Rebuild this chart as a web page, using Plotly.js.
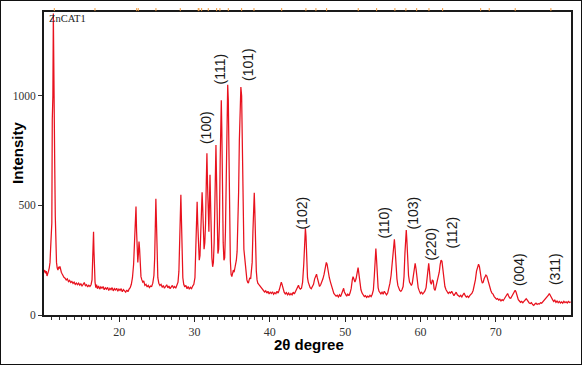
<!DOCTYPE html>
<html>
<head>
<meta charset="utf-8">
<script src="https://cdn.plot.ly/plotly-3.0.1.min.js"></script>
<style>
  html, body { margin: 0; padding: 0; background: #fff; }
  #wrap { position: relative; width: 582px; height: 365px; }
  #chart { width: 582px; height: 365px; }
  #frame { position: absolute; left: 0; top: 0; width: 580px; height: 363px; border: 1px solid #111; pointer-events: none; }
</style>
</head>
<body>
<div id="wrap"><div id="chart"></div><div id="frame"></div></div>
<script>
// ---- Data (2θ in degrees, intensity in counts) ----
const scanLow = [
  [10.0,195],[10.1,205],[10.2,190],[10.3,200],[10.4,178],[10.5,186],[10.6,200],[10.7,215],
  [10.8,240],[10.88,305],[10.96,410],[11.04,420],[11.1,890],[11.18,1000],[11.24,1375],[11.3,1000],
  [11.36,700],[11.42,700],[11.5,450],[11.58,300],[11.66,240],
  [11.75,215],[11.85,205],[11.95,220],[12.05,212],[12.12,222],[12.2,200],[12.3,195],[12.4,188],[12.5,180],
  [12.65,172],[12.8,168],[12.95,160],[13.1,165],[13.25,152],[13.4,158],[13.55,148],[13.7,153],
  [13.85,144],[14.0,150],[14.15,140],[14.3,146],[14.45,138],[14.6,145],[14.75,136],[14.9,142],
  [15.05,133],[15.2,140],[15.35,148],[15.5,134],[15.65,138],[15.8,128],[15.95,136],[16.1,130],
  [16.25,138],[16.38,160],[16.45,250],[16.52,370],[16.58,380],[16.64,290],[16.7,200],[16.78,150],[16.88,125],
  [16.98,138],[17.1,120],[17.25,132],[17.4,118],[17.55,128],[17.7,122],[17.85,130],[18.0,115],
  [18.15,124],[18.3,118],[18.45,126],[18.6,112],[18.75,122],[18.9,116],[19.05,125],[19.2,110],
  [19.35,120],[19.5,114],[19.65,122],[19.8,108],[19.95,118]
];
const scanMid = [
  [20.1,112],[20.25,120],[20.4,106],[20.55,116],[20.7,110],[20.85,104],[21.0,114],[21.15,106],
  [21.3,118],[21.45,125],[21.6,140],[21.75,170],[21.9,230],
  [22.0,300],[22.08,420],[22.16,480],[22.22,495],[22.3,380],[22.38,260],[22.46,240],[22.54,280],
  [22.62,335],[22.7,300],[22.78,210],[22.88,175],[23.0,160],[23.12,150],[23.25,155],[23.4,135],
  [23.55,140],[23.7,128],[23.85,135],[24.0,125],[24.15,132],[24.3,130],[24.45,145],[24.6,180],
  [24.7,260],[24.78,420],[24.86,530],[24.94,420],[25.02,250],[25.12,170],[25.25,145],[25.4,135],
  [25.55,140],[25.7,126],[25.85,134],[26.0,122],[26.15,130],[26.3,138],[26.45,124],[26.6,132],
  [26.75,120],[26.9,128],[27.05,135],[27.2,124],[27.35,130],[27.5,122],[27.65,134],[27.8,150],[27.92,200],
  [28.02,300],[28.1,440],[28.18,548],[28.26,430],[28.34,250],[28.44,170],[28.56,140],[28.7,128],
  [28.85,135],[29.0,120],[29.15,130],[29.3,118],[29.45,126],[29.6,120],[29.75,132],[29.9,140],
  [30.05,170],[30.15,260],[30.25,400],[30.34,516],[30.42,420],[30.52,290],[30.62,250],[30.72,270],
  [30.82,350],[30.92,480],[31.0,560],[31.08,490],[31.16,360],[31.26,300],[31.36,330],[31.46,420],
  [31.56,610],[31.64,738],[31.72,600],[31.8,420],[31.9,380],[31.98,520],[32.05,640],[32.12,520],
  [32.2,330],[32.3,260],[32.4,220],[32.5,240],[32.6,330],[32.7,520],[32.78,700],[32.84,775],
  [32.92,620],[33.0,400],[33.1,280],[33.2,300],[33.3,420],[33.4,700],[33.48,900],[33.55,980],
  [33.62,850],[33.7,560],[33.8,330],[33.9,250],[34.0,260],[34.1,380],[34.2,620],[34.3,880],
  [34.4,1050],[34.48,980],[34.56,700],[34.65,400],[34.75,250],[34.85,185],[34.95,175],[35.05,190],
  [35.15,205],[35.25,195],[35.35,215],[35.45,225],[35.55,250],[35.65,290],[35.75,380],[35.85,560],
  [35.95,800],[36.05,960],[36.15,1040],[36.25,1000],[36.35,780],[36.45,480],[36.55,300],[36.65,265],
  [36.75,220],[36.85,180],[36.95,160],[37.05,150],[37.15,145],[37.25,160],[37.35,170],[37.45,165],
  [37.55,190],[37.65,240],[37.75,380],[37.85,520],[37.93,557],[38.0,480],[38.1,300],[38.2,200],
  [38.3,160],[38.4,145],[38.55,138],[38.7,132],[38.85,125],[39.0,118],[39.15,112],[39.3,105],
  [39.45,110],[39.6,100],[39.75,108],[39.9,96]
];
const scanHigh = [
  [40.05,104],[40.2,98],[40.35,106],[40.5,95],[40.65,102],[40.8,97],[40.95,108],[41.1,100],
  [41.25,115],[41.4,135],[41.52,150],[41.62,140],[41.75,118],[41.9,104],[42.05,96],[42.2,102],
  [42.35,92],[42.5,100],[42.65,90],[42.8,98],[42.95,92],[43.1,104],[43.25,96],[43.4,108],
  [43.55,120],[43.7,132],[43.8,136],[43.9,125],[44.05,118],[44.2,122],[44.35,150],[44.5,230],
  [44.62,340],[44.72,395],[44.8,360],[44.9,240],[45.0,170],[45.1,150],[45.2,135],[45.35,125],
  [45.5,120],[45.65,130],[45.8,140],[45.95,165],[46.1,178],[46.2,186],[46.3,170],[46.45,145],
  [46.6,130],[46.75,138],[46.9,150],[47.05,165],[47.2,185],[47.35,215],[47.5,240],[47.6,232],
  [47.7,205],[47.8,190],[47.9,170],[48.05,150],[48.2,128],[48.35,115],[48.5,98],[48.65,92],
  [48.8,86],[48.95,90],[49.1,82],[49.25,92],[49.4,84],[49.55,98],[49.7,118],[49.8,122],
  [49.9,105],[50.05,92],[50.2,86],[50.35,95],[50.5,88],[50.65,100],[50.8,120],[50.95,160],
  [51.05,175],[51.15,165],[51.3,150],[51.45,165],[51.6,200],[51.72,216],[51.82,190],[51.95,140],
  [52.1,115],[52.25,100],[52.4,90],[52.55,84],[52.7,88],[52.85,80],[53.0,86],[53.15,82],
  [53.3,90],[53.45,84],[53.6,95],[53.75,115],[53.88,180],[54.0,270],[54.08,303],[54.16,260],
  [54.26,170],[54.38,125],[54.5,108],[54.62,100],[54.75,96],[54.9,104],[55.05,95],[55.2,108],
  [55.35,98],[55.5,92],[55.65,100],[55.8,118],[55.95,145],[56.1,180],[56.22,230],[56.34,300],
  [56.44,340],[56.54,345],[56.64,300],[56.76,220],[56.88,165],[57.0,135],[57.12,120],[57.25,112],
  [57.4,108],[57.55,115],[57.7,130],[57.82,175],[57.94,280],[58.04,370],[58.12,388],[58.2,340],
  [58.3,240],[58.42,180],[58.55,150],[58.68,140],[58.8,135],[58.92,145],[59.05,175],[59.18,220],
  [59.3,236],[59.42,210],[59.55,160],[59.7,125],[59.85,110],[60.0,98],[60.15,104],[60.3,96],
  [60.45,102],[60.6,110],[60.75,125],[60.88,170],[61.0,225],[61.1,236],[61.2,200],[61.32,150],
  [61.45,140],[61.58,160],[61.7,155],[61.82,120],[61.95,112],[62.08,130],[62.2,140],[62.35,165],
  [62.5,195],[62.62,230],[62.74,250],[62.86,245],[62.98,200],[63.1,160],[63.25,130],[63.4,115],
  [63.55,105],[63.7,98],[63.85,104],[64.0,100],[64.15,108],[64.3,95],[64.45,88],[64.6,96],
  [64.75,104],[64.9,92],[65.05,86],[65.2,84],[65.35,90],[65.5,82],[65.65,92],[65.8,100],
  [65.95,88],[66.1,82],[66.25,86],[66.4,80],[66.55,88],[66.7,94],[66.85,100],[67.0,112],
  [67.15,130],[67.3,160],[67.45,200],[67.6,225],[67.72,232],[67.84,220],[67.96,185],[68.1,160],
  [68.22,145],[68.34,150],[68.46,165],[68.58,175],[68.7,182],[68.82,178],[68.94,160],[69.06,145],
  [69.2,128],[69.35,112],[69.5,100],[69.65,95],[69.8,84],[69.95,78],[70.1,72],[70.25,75],
  [70.4,68],[70.55,72],[70.7,64],[70.85,70],[71.0,66],[71.15,74],[71.3,82],[71.45,92],
  [71.58,98],[71.7,88],[71.85,78],[72.0,76],[72.15,84],[72.3,92],[72.45,104],[72.58,113],
  [72.7,105],[72.85,84],[73.0,70],[73.15,64],[73.3,58],[73.45,62],[73.6,56],[73.75,62],
  [73.9,66],[74.05,74],[74.15,70],[74.3,60],[74.45,55],[74.6,52],[74.75,56],[74.9,48],
  [75.05,44],[75.2,50],[75.35,54],[75.5,48],[75.65,52],[75.8,50],[75.95,56],[76.1,54],
  [76.25,60],[76.4,64],[76.55,70],[76.7,78],[76.85,84],[77.0,90],[77.12,98],[77.25,92],
  [77.4,80],[77.55,70],[77.7,62],[77.85,68],[78.0,58],[78.15,64],[78.3,56],[78.45,62],
  [78.6,55],[78.75,60],[78.9,54],[79.05,62],[79.2,56],[79.35,60],[79.5,55],[79.65,62],
  [79.8,57],[79.95,60]
];
// reference-pattern marks along the top axis (2θ)
const refPeaks = [11.37,16.77,22.31,22.52,24.87,28.1,30.49,30.58,30.94,31.82,32.93,33.37,34.48,36.25,37.89,
  41.57,44.79,46.12,47.54,51.74,54.18,56.61,58.07,59.5,61.13,62.95,68.0,69.14,72.59,77.33];
// reflection labels
const hklLabels = ['(100)','(111)','(101)','(102)','(110)','(103)','(220)','(112)','(004)','(311)'];
const xTickVals = [20,30,40,50,60,70];
const yTickVals = [0,500,1000];
const sampleName = 'ZnCAT1';

// ---- layout helpers (positions, not data) ----
const hklPos = [[31.51,857],[33.44,1122],[37.09,1145],[44.26,467],[55.15,421],[59.0,467],
  [61.46,323],[64.25,378],[73.08,209],[77.86,209]];

const scan = scanLow.concat(scanMid, scanHigh);
const trace = {
  x: scan.map(p => p[0]),
  y: scan.map(p => p[1]),
  type: 'scatter',
  mode: 'lines',
  line: {color: 'rgb(232,18,30)', width: 1.25},
  hoverinfo: 'skip'
};

const minorVals = [];
for (let v = 11; v <= 79; v++) if (v % 10 !== 0) minorVals.push(v);

const annotations = hklLabels.map((t, i) => ({
  x: hklPos[i][0], y: hklPos[i][1], xref: 'x', yref: 'y',
  text: t, showarrow: false, textangle: -90,
  xanchor: 'center', yanchor: 'middle',
  font: {family: 'Liberation Sans, Arial, sans-serif', size: 14, color: '#1a1a1a'}
}));
annotations.push({
  x: 0.0066, y: 0.977, xref: 'paper', yref: 'paper', text: sampleName, showarrow: false,
  xanchor: 'left', yanchor: 'middle',
  font: {family: 'Liberation Serif, serif', size: 10.5, color: '#222'}
});
annotations.push({
  x: -0.0493, y: 0.535, xref: 'paper', yref: 'paper', text: '<b>Intensity</b>', showarrow: false,
  textangle: -90, xanchor: 'center', yanchor: 'middle',
  font: {family: 'Liberation Sans, Arial, sans-serif', size: 15, color: '#000'}
});
annotations.push({
  x: 0.502, y: -0.099, xref: 'paper', yref: 'paper', text: '<b>2θ degree</b>', showarrow: false,
  xanchor: 'center', yanchor: 'middle',
  font: {family: 'Liberation Sans, Arial, sans-serif', size: 15, color: '#000'}
});

const shapes = refPeaks.map(v => ({
  type: 'line', xref: 'x', yref: 'paper', x0: v, x1: v, y0: 1.003, y1: 1.013,
  line: {color: '#f29a3c', width: 1}
}));

const layout = {
  width: 582, height: 365,
  margin: {l: 44, r: 11, t: 12, b: 50, pad: 0},
  paper_bgcolor: '#fff', plot_bgcolor: '#fff',
  showlegend: false,
  xaxis: {
    range: [10, 80], showgrid: false, zeroline: false,
    showline: true, mirror: true, linecolor: '#1a1a1a', linewidth: 2,
    tickmode: 'array', tickvals: xTickVals, ticktext: xTickVals.map(String),
    ticks: 'outside', ticklen: 5, tickwidth: 1, tickcolor: '#222',
    tickfont: {family: 'Liberation Serif, serif', size: 12, color: '#333'},
    minor: {tickmode: 'array', tickvals: minorVals, ticks: 'outside', ticklen: 3, tickwidth: 1, tickcolor: '#333', showgrid: false}
  },
  yaxis: {
    range: [0, 1382], showgrid: false, zeroline: false,
    showline: true, mirror: true, linecolor: '#1a1a1a', linewidth: 2,
    tickmode: 'array', tickvals: yTickVals, ticktext: yTickVals.map(String),
    ticks: 'outside', ticklen: 4, tickwidth: 1, tickcolor: '#333',
    tickfont: {family: 'Liberation Serif, serif', size: 11.5, color: '#333'}
  },
  annotations: annotations,
  shapes: shapes
};

Plotly.newPlot('chart', [trace], layout, {staticPlot: true, displayModeBar: false});
</script>
</body>
</html>
